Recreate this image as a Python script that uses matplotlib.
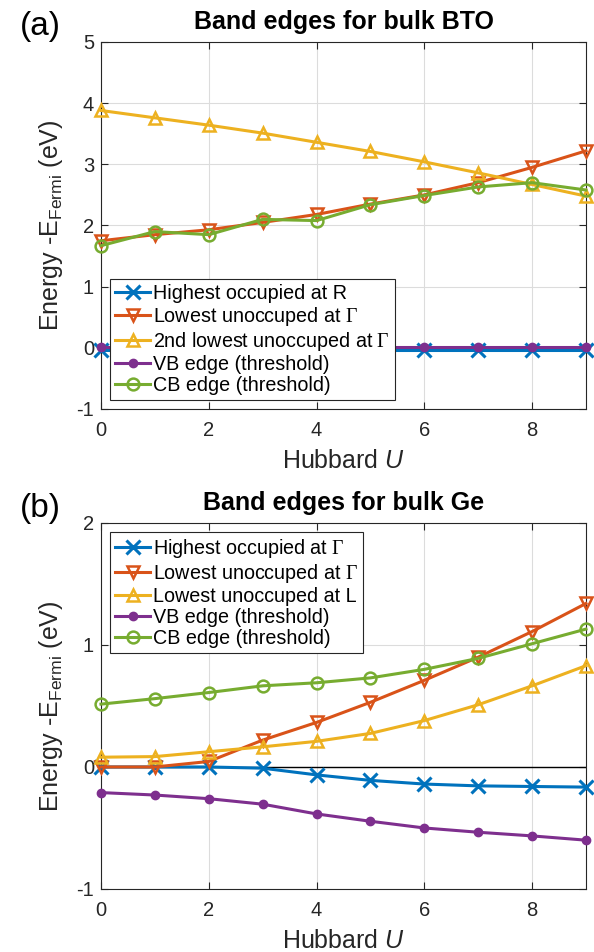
import numpy as np
import matplotlib
matplotlib.use('Agg')
import matplotlib.pyplot as plt

plt.rcParams['font.family'] = ['Liberation Sans', 'DejaVu Sans']
plt.rcParams['mathtext.fontset'] = 'custom'
plt.rcParams['mathtext.rm'] = 'Liberation Serif'
plt.rcParams['mathtext.it'] = 'Liberation Sans:italic'
plt.rcParams['mathtext.sf'] = 'Liberation Sans'
plt.rcParams['axes.unicode_minus'] = False

# Hubbard U values
U = [0, 1, 2, 3, 4, 5, 6, 7, 8, 9]

# bulk BTO band edges (eV)
bto_hi_R = [-0.04, -0.04, -0.04, -0.04, -0.04, -0.04, -0.04, -0.04, -0.04, -0.04]
bto_lo_G = [1.75, 1.85, 1.93, 2.05, 2.18, 2.35, 2.50, 2.70, 2.95, 3.22]
bto_lo2_G = [3.88, 3.76, 3.64, 3.51, 3.36, 3.21, 3.04, 2.86, 2.67, 2.48]
bto_vb = [0.02, 0.02, 0.02, 0.02, 0.02, 0.02, 0.02, 0.02, 0.02, 0.02]
bto_cb = [1.67, 1.90, 1.85, 2.10, 2.08, 2.34, 2.49, 2.63, 2.70, 2.58]

# bulk Ge band edges (eV)
ge_hi_G = [0.0, 0.0, 0.0, -0.01, -0.065, -0.11, -0.14, -0.155, -0.16, -0.165]
ge_lo_G = [0.0, 0.0, 0.045, 0.22, 0.365, 0.53, 0.71, 0.90, 1.11, 1.34]
ge_lo_L = [0.08, 0.085, 0.125, 0.165, 0.21, 0.275, 0.38, 0.51, 0.665, 0.83]
ge_vb = [-0.21, -0.23, -0.26, -0.305, -0.385, -0.445, -0.50, -0.535, -0.565, -0.60]
ge_cb = [0.515, 0.56, 0.61, 0.665, 0.69, 0.73, 0.80, 0.89, 1.01, 1.13]

bto_labels = ['Highest occupied at R', r'Lowest unoccuped at $\Gamma$',
              r'2nd lowest unoccuped at $\Gamma$', 'VB edge (threshold)', 'CB edge (threshold)']
ge_labels = [r'Highest occupied at $\Gamma$', r'Lowest unoccuped at $\Gamma$',
             'Lowest unoccuped at L', 'VB edge (threshold)', 'CB edge (threshold)']

colors = ['#0072BD', '#D95319', '#EDB120', '#7E2F8E', '#77AC30']
axcol = '#262626'


def draw_panel(ax, series, labels, ylim, yticks, title, legloc):
    ax.axhline(0, color='k', lw=1, zorder=1.5)
    styles = [dict(marker='x', ms=10, mew=2.2),
              dict(marker='v', ms=9, mew=1.8, mfc='none'),
              dict(marker='^', ms=9, mew=1.8, mfc='none'),
              dict(marker='o', ms=6, mew=1),
              dict(marker='o', ms=8.5, mew=1.8, mfc='none')]
    for y, lab, c, st in zip(series, labels, colors, styles):
        ax.plot(U, y, color=c, lw=2.2, label=lab, clip_on=False, zorder=3, **st)
    ax.set_xlim(0, 9)
    ax.set_ylim(*ylim)
    ax.set_xticks([0, 2, 4, 6, 8])
    ax.set_yticks(yticks)
    ax.grid(True, color='#dcdcdc', lw=0.8)
    ax.set_axisbelow(True)
    ax.tick_params(direction='in', length=5, width=0.8, colors=axcol, labelsize=14.5,
                   top=True, right=True)
    ax.tick_params(axis='x', pad=9)
    ax.tick_params(axis='y', pad=5)
    for s in ax.spines.values():
        s.set_color(axcol)
        s.set_linewidth(0.8)
    ax.set_title(title, fontsize=18, fontweight='bold', pad=9)
    ax.set_xlabel(r'Hubbard $U$', fontsize=18, color=axcol, labelpad=6)
    ax.set_ylabel(r'Energy -E$_{\mathsf{Fermi}}$ (eV)', fontsize=18, color=axcol, labelpad=8)
    leg = ax.legend(loc=legloc, fontsize=14.2, numpoints=1, handlelength=1.8,
                    handletextpad=0.15, labelspacing=0.1, borderpad=0.25,
                    borderaxespad=0.45, fancybox=False, framealpha=1,
                    edgecolor=axcol)
    leg.get_frame().set_linewidth(0.8)


fig = plt.figure(figsize=(5.94, 9.52), dpi=100)
ax1 = fig.add_axes([0.170, 0.5704, 0.8165, 0.3855])
ax2 = fig.add_axes([0.170, 0.0662, 0.8165, 0.3845])

draw_panel(ax1, [bto_hi_R, bto_lo_G, bto_lo2_G, bto_vb, bto_cb], bto_labels,
           (-1, 5), [-1, 0, 1, 2, 3, 4, 5], 'Band edges for bulk BTO', 'lower left')
draw_panel(ax2, [ge_hi_G, ge_lo_G, ge_lo_L, ge_vb, ge_cb], ge_labels,
           (-1, 2), [-1, 0, 1, 2], 'Band edges for bulk Ge', 'upper left')

fig.text(40 / 594, 1 - 27 / 952, '(a)', fontsize=24, ha='center', va='center')
fig.text(40 / 594, 1 - 508 / 952, '(b)', fontsize=24, ha='center', va='center')

fig.savefig('out.png', dpi=100)
